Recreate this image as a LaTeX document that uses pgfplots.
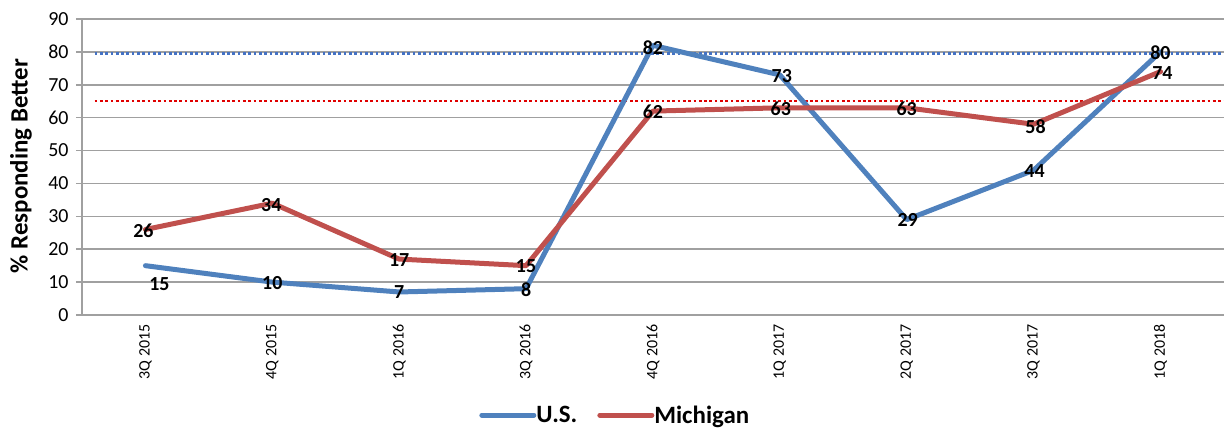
\documentclass[border=0pt]{standalone}
\usepackage{pgfplots}
\usepackage{pgfplotstable}
\pgfplotsset{compat=1.18}
\usepackage{fontspec}
\setmainfont{Carlito}
\definecolor{usblue}{HTML}{4F81BD}
\definecolor{mired}{HTML}{C0504D}
\definecolor{gridgray}{HTML}{A0A0A0}
\definecolor{refblue}{HTML}{4472C4}
\definecolor{refred}{HTML}{E00000}

\pgfplotstableread{
x y dx dy
0 15 14 -18
1 10 0 -1
2 7 0 0
3 8 0 -1
4 82 0 -2
5 73 2 -1
6 29 1 0
7 44 1 -1
8 80 0 -1
}\usdata

\pgfplotstableread{
x y dx dy
0 26 -2 -1
1 34 -1 -2
2 17 0 -1
3 15 0 0
4 62 0 -1
5 63 1 -1
6 63 0 -1
7 58 2 -2
8 74 2 -1
}\midata

\begin{document}
\begin{tikzpicture}
\useasboundingbox (-82bp,-117bp) rectangle (1144bp,315bp);
\begin{axis}[
  scale only axis, width=1142bp, height=296bp,
  xmin=-0.5, xmax=8.5, ymin=0, ymax=90,
  ytick={0,10,...,90},
  xtick={0,...,8},
  xticklabels={3Q 2015, 4Q 2015, 1Q 2016, 3Q 2016, 4Q 2016, 1Q 2017, 2Q 2017, 3Q 2017, 1Q 2018},
  axis lines=left,
  axis line style={-, draw=gridgray, line width=1.5bp},
  ymajorgrids,
  grid style={gridgray, line width=1.5bp},
  tick align=outside,
  major tick length=6bp,
  ytick style={draw=gridgray, line width=1.5bp},
  xtick style={draw=none},
  /pgf/number format/assume math mode=true,
  yticklabel style={font=\fontsize{20}{22}\selectfont, xshift=-4bp},
  xticklabel style={rotate=90, anchor=east, font=\fontsize{16}{18}\selectfont},
  ylabel={\% Responding Better},
  ylabel style={at={(axis description cs:-0.0534,0.503)}, anchor=center, font=\bfseries\fontsize{25}{27}\selectfont},
  legend style={at={(axis description cs:0.467,-0.338)}, anchor=center, draw=none, legend columns=2,
    font=\bfseries\fontsize{25}{27}\selectfont,
    /tikz/every even column/.append style={column sep=18bp},
    /tikz/every odd column/.append style={column sep=-2bp}},
  legend image code/.code={\draw[#1, line width=5bp, line cap=round] (0bp,0bp) -- (52bp,0bp);},
  every node near coord/.append style={anchor=center, text=black, font=\bfseries\fontsize{20}{22}\selectfont},
]
\addplot[refblue, line width=2.5bp, dash pattern=on 2.7bp off 2.6bp, forget plot] coordinates {(-0.4,79.5) (8.5,79.5)};
\addplot[refred, line width=2.5bp, dash pattern=on 2.7bp off 2.6bp, forget plot] coordinates {(-0.4,65) (8.5,65)};

\addplot[usblue, line width=5bp, line join=round, line cap=round, mark=none,
  nodes near coords, point meta=\thisrow{y},
  visualization depends on={\thisrow{dx} \as \dx},
  visualization depends on={\thisrow{dy} \as \dy},
  every node near coord/.append style={xshift=\dx bp, yshift=\dy bp}]
  table[x=x, y=y] {\usdata};
\addlegendentry{U.S.}

\addplot[mired, line width=5bp, line join=round, line cap=round, mark=none,
  nodes near coords, point meta=\thisrow{y},
  visualization depends on={\thisrow{dx} \as \dx},
  visualization depends on={\thisrow{dy} \as \dy},
  every node near coord/.append style={xshift=\dx bp, yshift=\dy bp}]
  table[x=x, y=y] {\midata};
\addlegendentry{Michigan}
\end{axis}
\end{tikzpicture}
\end{document}
